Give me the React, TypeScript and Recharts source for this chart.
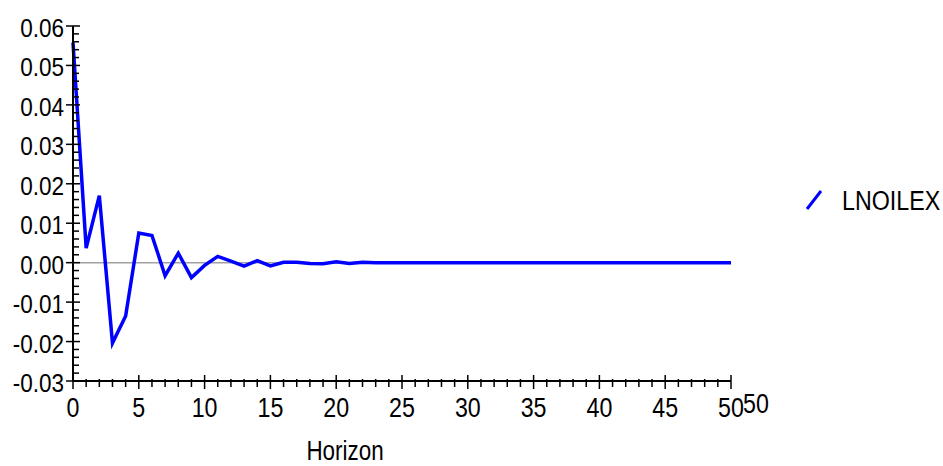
import { LineChart, Line, XAxis, YAxis, ReferenceLine } from "recharts";

// Horizon steps 0..50
const HORIZON = [
  0, 1, 2, 3, 4, 5, 6, 7, 8, 9, 10, 11, 12, 13, 14, 15, 16, 17, 18, 19, 20, 21, 22, 23, 24, 25,
  26, 27, 28, 29, 30, 31, 32, 33, 34, 35, 36, 37, 38, 39, 40, 41, 42, 43, 44, 45, 46, 47, 48, 49, 50,
];

// impulse response of LNOILEX
const LNOILEX = [
  0.0558, 0.0037, 0.017, -0.0204, -0.0135, 0.0075, 0.0069, -0.0033, 0.0024, -0.0038,
  -0.0007, 0.0016, 0.0004, -0.0009, 0.0005, -0.0008, 0.0001, 0.0001, -0.0002, -0.0003,
  0.0002, -0.0002, 0.0001, 0, 0, 0, 0, 0, 0, 0, 0, 0, 0, 0, 0, 0, 0, 0, 0, 0, 0, 0, 0, 0, 0,
  0, 0, 0, 0, 0, 0,
];

const SERIES_NAME = "LNOILEX";
const X_TITLE = "Horizon";
const X_LABELS = ["0", "5", "10", "15", "20", "25", "30", "35", "40", "45", "50"];
const Y_LABELS = ["-0.03", "-0.02", "-0.01", "0.00", "0.01", "0.02", "0.03", "0.04", "0.05", "0.06"];

// minor ticks: every 1 on x, every 0.002 on y
const X_TICKS = HORIZON;
const Y_TICKS: number[] = [];
for (let k = -15; k <= 30; k++) Y_TICKS.push(k / 500);

const data = HORIZON.map((h, i) => ({ h, v: LNOILEX[i] }));

const FONT = "'Liberation Sans', Arial, sans-serif";

function XTick(props: any) {
  const { x, y, payload } = props;
  const v = payload.value as number;
  const major = v % 5 === 0;
  const label = X_LABELS[v / 5];
  return (
    <g>
      <line
        x1={x}
        x2={x}
        y1={y + (major ? -6 : -2)}
        y2={y + (major ? 8 : 6)}
        stroke="#000"
        strokeWidth={1.5}
      />
      {major && (
        <text
          transform={`translate(${x},${y + 36}) scale(0.83,1)`}
          textAnchor="middle"
          fontSize={28}
          fontFamily={FONT}
          fill="#000"
        >
          {label}
        </text>
      )}
      {v === 50 && (
        <text
          transform={`translate(${x + 25},${y + 32}) scale(0.83,1)`}
          textAnchor="middle"
          fontSize={28}
          fontFamily={FONT}
          fill="#000"
        >
          {label}
        </text>
      )}
    </g>
  );
}

function YTick(props: any) {
  const { x, y, payload } = props;
  const k = Math.round((payload.value as number) * 500);
  const major = k % 5 === 0;
  return (
    <g>
      <line
        x1={major ? x - 7 : x}
        x2={major ? x + 7 : x + 6}
        y1={y}
        y2={y}
        stroke="#000"
        strokeWidth={1.5}
      />
      {major && (
        <text
          transform={`translate(${x - 9},${y + 11}) scale(0.9,1)`}
          textAnchor="end"
          fontSize={25}
          fontFamily={FONT}
          fill="#000"
        >
          {Y_LABELS[k / 5 + 3]}
        </text>
      )}
    </g>
  );
}

export default function App() {
  return (
    <div style={{ position: "absolute", left: 0, top: 0, width: 943, height: 466, background: "#fff" }}>
      <LineChart
        width={943}
        height={466}
        data={data}
        margin={{ top: 26, right: 212, bottom: 0, left: 0 }}
      >
        <XAxis
          dataKey="h"
          type="number"
          domain={[0, 50]}
          ticks={X_TICKS}
          interval={0}
          height={85}
          tickSize={0}
          tickMargin={0}
          tickLine={false}
          axisLine={{ stroke: "#000", strokeWidth: 2 }}
          tick={<XTick />}
        />
        <YAxis
          type="number"
          domain={[-0.03, 0.06]}
          ticks={Y_TICKS}
          interval={0}
          width={73}
          tickSize={0}
          tickMargin={0}
          tickLine={false}
          axisLine={{ stroke: "#000", strokeWidth: 2 }}
          tick={<YTick />}
        />
        <ReferenceLine y={0} stroke="#a0a0a0" strokeWidth={1.5} />
        <Line
          type="linear"
          dataKey="v"
          name={SERIES_NAME}
          stroke="#0000ff"
          strokeWidth={3.5}
          dot={false}
          isAnimationActive={false}
        />
      </LineChart>
      <svg
        width={943}
        height={466}
        style={{ position: "absolute", left: 0, top: 0, pointerEvents: "none" }}
      >
        {/* legend */}
        <line x1={807} y1={209} x2={821} y2={191} stroke="#0000ff" strokeWidth={3} />
        <text
          transform="translate(842,210) scale(0.83,1)"
          fontSize={28}
          fontFamily={FONT}
          fill="#000"
        >
          {SERIES_NAME}
        </text>
        {/* x axis title */}
        <text
          transform="translate(345,460) scale(0.83,1)"
          textAnchor="middle"
          fontSize={27}
          fontFamily={FONT}
          fill="#000"
        >
          {X_TITLE}
        </text>
      </svg>
    </div>
  );
}
